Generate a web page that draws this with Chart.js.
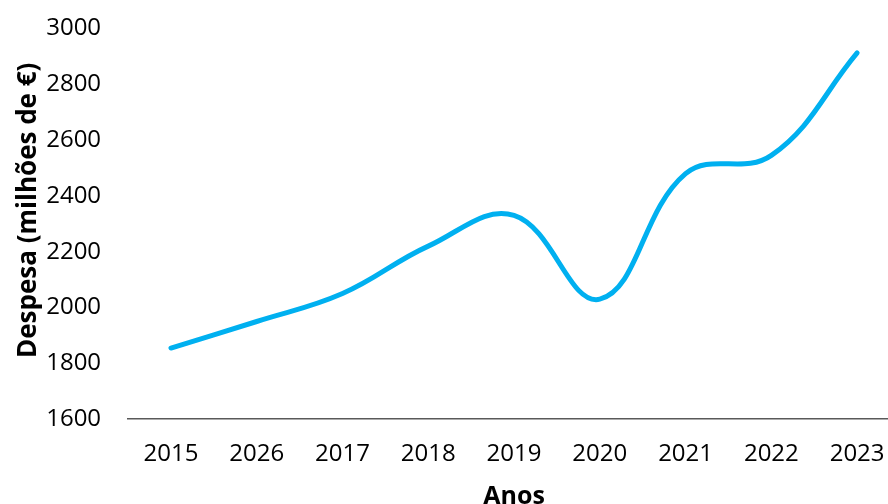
<!DOCTYPE html>
<html>
<head>
<meta charset="utf-8">
<script src="https://cdn.jsdelivr.net/npm/chart.js@4"></script>
<style>
  html, body { margin: 0; padding: 0; overflow: hidden; background: #fff; }
  #wrap { width: 900px; height: 517px; margin-top: -5px; }
</style>
</head>
<body>
<div id="wrap"><canvas id="despesaChart"></canvas></div>
<script>
const anos = ["2015", "2026", "2017", "2018", "2019", "2020", "2021", "2022", "2023"];
const despesa = [1855, 1950, 2050, 2220, 2330, 2030, 2480, 2545, 2912];
const yTicks = [1600, 1800, 2000, 2200, 2400, 2600, 2800, 3000];

Chart.defaults.font.family = "'Open Sans', sans-serif";
Chart.defaults.color = "#000";

const ctx = document.getElementById("despesaChart");
new Chart(ctx, {
    type: "line",
    data: {
        labels: anos,
        datasets: [{
            label: "Despesa",
            data: despesa,
            borderColor: "#00b0f0",
            borderWidth: 5,
            borderCapStyle: "round",
            pointRadius: 0,
            tension: 0.4,
            fill: false
        }]
    },
    options: {
        responsive: true,
        maintainAspectRatio: false,
        animation: false,
        layout: { padding: { top: 2, left: 13 } },
        plugins: { legend: { display: false }, tooltip: { enabled: false } },
        scales: {
            x: {
                offset: true,
                grid: { display: false },
                border: { display: true, color: "#595959", width: 1.5 },
                ticks: { font: { size: 24 }, padding: 13, maxRotation: 0 },
                title: { display: true, text: "Anos", font: { size: 25, weight: "bold" }, padding: { top: 0, bottom: 0 } }
            },
            y: {
                min: 1600,
                max: 3000,
                afterBuildTicks: (axis) => { axis.ticks = yTicks.map(v => ({ value: v })); },
                grid: { display: false },
                border: { display: false },
                ticks: { font: { size: 24 }, padding: 19, callback: (v) => String(v) },
                // leading spaces nudge the title up a little, like the original
                title: { display: true, text: "    Despesa (milhões de €)", font: { size: 26, weight: "bold" }, padding: { top: 0, bottom: -17 } }
            }
        }
    }
});
</script>
</body>
</html>
